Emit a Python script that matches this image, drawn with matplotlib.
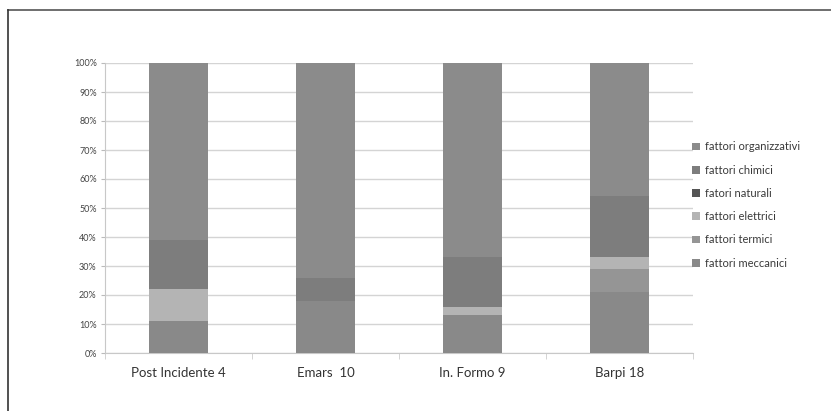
import matplotlib
matplotlib.use("Agg")
import matplotlib.pyplot as plt
import numpy as np

categories = ["Post Incidente 4", "Emars  10", "In. Formo 9", "Barpi 18"]
series_names = ["fattori meccanici", "fattori termici", "fattori elettrici",
                "fatori naturali", "fattori chimici", "fattori organizzativi"]
meccanici = [11, 18, 13, 21]
termici = [0, 0, 0, 8]
elettrici = [11, 0, 3, 4]
naturali = [0, 0, 0, 0]
chimici = [17, 8, 17, 21]
organizzativi = [61, 74, 67, 46]
colors = ["#898989", "#959595", "#b4b4b4", "#555555", "#7d7d7d", "#8b8b8b"]
yticks = [0, 10, 20, 30, 40, 50, 60, 70, 80, 90, 100]

plt.rcParams['font.family'] = ['Lato', 'DejaVu Sans']
W, H = 831, 411
fig = plt.figure(figsize=(W / 100, H / 100), dpi=100)
ax = fig.add_axes([105 / W, (H - 353) / H, (693 - 105) / W, (353 - 63) / H])

data = [meccanici, termici, elettrici, naturali, chimici, organizzativi]
x = np.arange(len(categories))
bottom = np.zeros(len(categories))
handles = []
for name, vals, c in zip(series_names, data, colors):
    vals = np.array(vals, dtype=float)
    b = ax.bar(x, vals, width=0.4, bottom=bottom, color=c, label=name, zorder=3)
    handles.append(b)
    bottom += vals

ax.set_xlim(-0.5, len(categories) - 0.5)
ax.set_ylim(0, 100)
ax.set_yticks(yticks)
ax.set_yticklabels([f"{v}%" for v in yticks], fontsize=6.5, color="#444444")
ax.set_xticks(x)
ax.set_xticklabels(categories, fontsize=9.5, color="#333333")
ax.tick_params(axis='x', length=0, pad=10)
ax.set_xticks(np.arange(-0.5, len(categories), 1), minor=True)
ax.tick_params(axis='x', which='minor', length=4, color="#cccccc", direction='out')
ax.tick_params(axis='y', length=3, color="#bbbbbb", pad=3)
ax.grid(axis='y', color="#d4d4d4", linewidth=1, zorder=0)
for s in ["top", "right"]:
    ax.spines[s].set_visible(False)
for s in ["left", "bottom"]:
    ax.spines[s].set_color("#c8c8c8")

leg = fig.legend(handles[::-1], series_names[::-1], loc='upper left',
                 bbox_to_anchor=(688 / W, (H - 137) / H), frameon=False,
                 fontsize=8, handlelength=0.7, handleheight=0.7,
                 handletextpad=0.4, labelspacing=1.1, borderaxespad=0)
for t in leg.get_texts():
    t.set_color("#3a3a3a")

# outer frame lines (top and left)
fig.add_artist(plt.Line2D([8 / W, 1], [1 - 10 / H, 1 - 10 / H], color="#555555", linewidth=1.2))
fig.add_artist(plt.Line2D([8 / W, 8 / W], [0, 1 - 10 / H], color="#333333", linewidth=1.2))

fig.savefig("out.png", dpi=100)
